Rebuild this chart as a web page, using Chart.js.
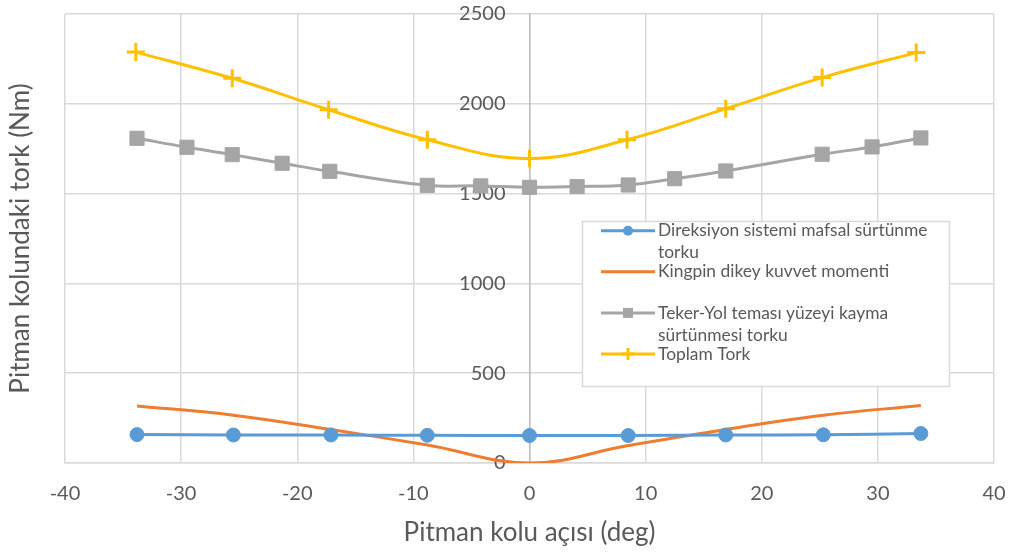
<!DOCTYPE html>
<html>
<head>
<meta charset="utf-8">
<script src="https://cdn.jsdelivr.net/npm/chart.js@4/dist/chart.umd.min.js"></script>
<style>
  html, body { margin: 0; padding: 0; background: #ffffff; }
  #wrap { width: 1012px; height: 553px; }
</style>
</head>
<body>
<div id="wrap"><canvas id="c" width="1012" height="553"></canvas></div>
<script>
// Pitman kolu açısı (deg) for the joint friction and kingpin series
const angles = [-33.8, -25.5, -17.1, -8.8, 0, 8.5, 16.9, 25.3, 33.7];
// Direksiyon sistemi mafsal sürtünme torku (Nm)
const mafsalTorku = [158, 156, 156, 154, 153, 153, 156, 157, 164];
// Kingpin dikey kuvvet momenti (Nm)
const kingpinMomenti = [318, 266, 186, 100, 0, 97, 187, 266, 320];
// Teker-Yol teması yüzeyi kayma sürtünmesi torku (Nm)
const kaymaAngles = [-33.8, -29.5, -25.6, -21.3, -17.2, -8.8, -4.2, 0, 4.1, 8.5, 12.5, 16.9, 25.2, 29.5, 33.7];
const kaymaTorku = [1808, 1758, 1717, 1669, 1624, 1546, 1543, 1535, 1539, 1548, 1583, 1626, 1719, 1760, 1810];
// Toplam Tork (Nm)
const toplamAngles = [-33.9, -25.6, -17.3, -8.8, 0, 8.4, 16.9, 25.2, 33.3];
const toplamTork = [2288, 2142, 1967, 1800, 1695, 1800, 1973, 2146, 2285];

// Axis ranges and ticks
const xRange = [-40, 40];
const xStep = 10;
const yRange = [0, 2500];
const yStep = 500;

// Legend entries (wrapped the way they are shown in the box)
const legendLines = [
  ["Direksiyon sistemi mafsal sürtünme", "torku"],
  ["Kingpin dikey kuvvet momenti"],
  ["Teker-Yol teması yüzeyi kayma", "sürtünmesi torku"],
  ["Toplam Tork"]
];

const COLORS = ['#5B9BD5', '#ED7D31', '#A5A5A5', '#FFC000'];
const TEXT = '#595959';
const FONT = 'Lato, "Open Sans", sans-serif';
const Y_LABEL_GAP = 24; // space between the value labels and the centre axis line

const pairs = (xs, ys) => xs.map((x, i) => ({ x: x, y: ys[i] }));

const datasets = [
  {
    label: legendLines[0].join(' '),
    data: pairs(angles, mafsalTorku),
    borderColor: COLORS[0], backgroundColor: COLORS[0],
    borderWidth: 3, pointStyle: 'circle', pointRadius: 7,
    pointBorderWidth: 1, pointBackgroundColor: COLORS[0], pointBorderColor: COLORS[0]
  },
  {
    label: legendLines[1].join(' '),
    data: pairs(angles, kingpinMomenti),
    borderColor: COLORS[1], backgroundColor: COLORS[1],
    borderWidth: 3, pointRadius: 0
  },
  {
    label: legendLines[2].join(' '),
    data: pairs(kaymaAngles, kaymaTorku),
    borderColor: COLORS[2], backgroundColor: COLORS[2],
    borderWidth: 3, pointStyle: 'rect', pointRadius: 10,
    pointBorderWidth: 1, pointBackgroundColor: COLORS[2], pointBorderColor: COLORS[2]
  },
  {
    label: legendLines[3].join(' '),
    data: pairs(toplamAngles, toplamTork),
    borderColor: COLORS[3], backgroundColor: COLORS[3],
    borderWidth: 3, pointStyle: 'cross', pointRadius: 9,
    pointBorderWidth: 3, pointBorderColor: COLORS[3]
  }
];

// Moves the value labels of the centred y axis to the left of its line
const yLabelShift = {
  id: 'yLabelShift',
  beforeDraw(chart) {
    const items = chart.scales.y.getLabelItems();
    if (items._shifted) return;
    items.forEach(it => { it.options.translation[0] -= Y_LABEL_GAP; });
    items._shifted = true;
  }
};

// Boxed legend drawn inside the plot area
const boxLegend = {
  id: 'boxLegend',
  afterDraw(chart) {
    const ctx = chart.ctx;
    const box = { x: 582.5, y: 221.5, w: 367, h: 165 };
    ctx.save();
    ctx.fillStyle = '#ffffff';
    ctx.strokeStyle = '#D9D9D9';
    ctx.lineWidth = 1.5;
    ctx.fillRect(box.x, box.y, box.w, box.h);
    ctx.strokeRect(box.x, box.y, box.w, box.h);

    const x0 = 601, x1 = 655, xm = (x0 + x1) / 2, tx = 658;
    const firstY = 230.7, entryStep = 41.1, lineStep = 22;
    ctx.font = '17.4px ' + FONT;
    ctx.textBaseline = 'middle';
    ctx.textAlign = 'left';
    legendLines.forEach((lines, i) => {
      const y = firstY + i * entryStep;
      const col = COLORS[i];
      ctx.strokeStyle = col;
      ctx.fillStyle = col;
      ctx.lineWidth = 3;
      ctx.beginPath();
      ctx.moveTo(x0, y); ctx.lineTo(x1, y);
      ctx.stroke();
      const st = datasets[i].pointStyle;
      if (datasets[i].pointRadius > 0) {
        if (st === 'circle') {
          ctx.beginPath(); ctx.arc(xm, y, 5, 0, Math.PI * 2); ctx.fill();
        } else if (st === 'rect') {
          ctx.fillRect(xm - 5, y - 5, 10, 10);
        } else if (st === 'cross') {
          ctx.lineWidth = 3;
          ctx.beginPath();
          ctx.moveTo(xm, y - 6); ctx.lineTo(xm, y + 6);
          ctx.moveTo(xm - 6, y); ctx.lineTo(xm + 6, y);
          ctx.stroke();
        }
      }
      ctx.fillStyle = TEXT;
      lines.forEach((t, j) => ctx.fillText(t, tx, y + j * lineStep));
    });
    ctx.restore();
  }
};

new Chart(document.getElementById('c'), {
  type: 'line',
  data: { datasets: datasets },
  plugins: [yLabelShift, boxLegend],
  options: {
    responsive: false,
    animation: false,
    events: [],
    layout: { padding: { top: 14, right: 18, left: 0, bottom: 0 } },
    elements: { line: { tension: 0.4, cubicInterpolationMode: 'default' } },
    plugins: { legend: { display: false }, tooltip: { enabled: false } },
    scales: {
      x: {
        type: 'linear', position: 'bottom',
        min: xRange[0], max: xRange[1],
        afterFit(s) { s.height = 90; },
        ticks: { stepSize: xStep, padding: 0, color: TEXT, font: { family: FONT, size: 20 },
                 callback: v => String(v) },
        grid: { color: '#D9D9D9', lineWidth: 1.5, drawTicks: true, tickLength: 19, tickColor: 'rgba(0,0,0,0)' },
        border: { color: '#D9D9D9', width: 1.5 },
        title: { display: true, text: 'Pitman kolu açısı (deg)', color: TEXT,
                 font: { family: FONT, size: 26 }, padding: { top: 0, bottom: 5 } }
      },
      y: {
        type: 'linear', position: { x: 0 },
        min: yRange[0], max: yRange[1],
        ticks: { stepSize: yStep, padding: 0, color: TEXT, font: { family: FONT, size: 20 },
                 callback: v => String(v) },
        grid: { color: '#D9D9D9', lineWidth: 1.5, drawTicks: true, tickLength: 24, tickColor: 'rgba(0,0,0,0)' },
        border: { color: '#BFBFBF', width: 1.5 }
      },
      yTitle: {
        type: 'linear', position: 'left',
        min: yRange[0], max: yRange[1],
        afterFit(s) { s.width = 65; },
        ticks: { display: false },
        grid: { display: false, drawTicks: false },
        border: { display: false },
        title: { display: true, text: 'Pitman kolundaki tork (Nm)', color: TEXT,
                 font: { family: FONT, size: 26 }, padding: { top: 5, bottom: 0 } }
      }
    }
  }
});
</script>
</body>
</html>
